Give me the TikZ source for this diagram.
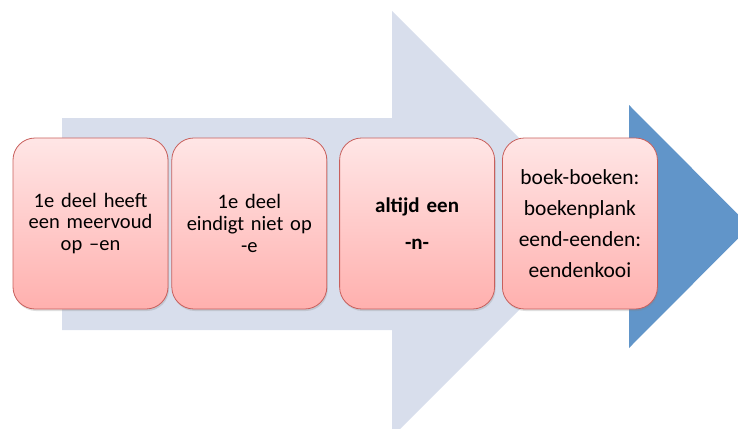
\documentclass[tikz,border=0pt]{standalone}
\usepackage{fontspec}
\setmainfont{Carlito}
\usetikzlibrary{positioning, shadows}
\definecolor{pijllicht}{RGB}{216,222,236}
\definecolor{pijldonker}{RGB}{97,149,201}
\definecolor{rozetop}{RGB}{255,230,230}
\definecolor{rozebodem}{RGB}{255,176,174}
\definecolor{rozerand}{RGB}{200,95,92}

\begin{document}
\begin{tikzpicture}[
        x=1pt, y=-1pt,
        node distance=3pt,
        regel/.style={draw=rozerand, line width=0.8pt, rounded corners=22pt, align=center,
            minimum height=171pt, minimum width=155pt, text width=140pt,
            top color=rozetop, bottom color=rozebodem,
            drop shadow={shadow xshift=1pt, shadow yshift=-2pt, opacity=0.25},
            font=\fontsize{20.5}{21.7}\selectfont},
        breed/.style={font=\fontsize{21.5}{31}\selectfont}
    ]

    \useasboundingbox (0,0) rectangle (738,428);
    \clip (0,0) rectangle (738,428);

    % Pijlen
    \fill[pijllicht] (62,118) -- (392,118) -- (392,11) -- (605,224) -- (392,437)
        -- (392,330) -- (62,330) -- cycle;
    \fill[pijldonker] (629,105) -- (750,226.5) -- (629,348) -- cycle;

    % Stappen
    \node [regel] (meervoud) at (90.5,223.5) {1e deel heeft\\een meervoud\\op --en};
    \node [regel] (eindigt) [right=of meervoud] {1e deel\\eindigt niet op\\-e};
    \node [regel, font=\fontsize{21}{37}\selectfont\bfseries] (altijd) [right=12pt of eindigt] {altijd een\\-n-};
    \node [regel, breed] (voorbeeld) [right=7pt of altijd] {boek-boeken:\\boekenplank\\eend-eenden:\\eendenkooi};

\end{tikzpicture}
\end{document}
